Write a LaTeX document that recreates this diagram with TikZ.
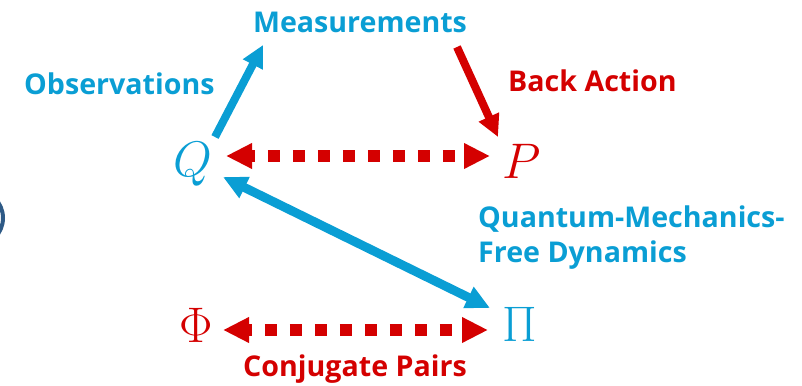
\RequirePackage{fix-cm}
\documentclass[tikz,border=0pt]{standalone}
\usepackage{fontspec}
\newfontfamily\osans{Open Sans}
\usetikzlibrary{arrows.meta}
\definecolor{qblue}{RGB}{10,158,212}
\definecolor{qred}{RGB}{212,0,0}
\definecolor{qdark}{RGB}{46,90,134}
\tikzset{
  lbl/.style={inner sep=0pt, font=\osans\bfseries\fontsize{28.6}{34}\selectfont},
  sym/.style={inner sep=0pt, font=\fontsize{50}{60}\selectfont},
  bluearrow/.style={draw=qblue, line width=8pt, -{Triangle[length=22pt,width=21pt]}},
  redarrow/.style={draw=qred, line width=8pt, -{Triangle[length=22pt,width=21pt]}},
  dashpair/.style={draw=qred, line width=12pt, dash pattern=on 12.5pt off 12.5pt, dash phase=7.5pt,
    {Triangle[length=26pt,width=24pt]}-{Triangle[length=26pt,width=24pt]}},
  bluepair/.style={draw=qblue, line width=9pt,
    {Triangle[length=24pt,width=22pt]}-{Triangle[length=24pt,width=22pt]}}
}
\begin{document}
\begin{tikzpicture}[x=1pt,y=-1pt]
\useasboundingbox (0,0) rectangle (802,385);
\clip (0,0) rectangle (802,385);
% partial circle at left edge
\draw[qdark, line width=4pt] (-25,218) circle (28pt);
% labels
\node[lbl, text=qblue, anchor=base] (meas) at (360,33) {Measurements};
\node[lbl, text=qblue, anchor=base west] (obs) at (24,95) {Observations};
\node[lbl, text=qred, anchor=base west] (back) at (508,92) {Back Action};
\node[lbl, text=qblue, anchor=base west] (qm1) at (478,227) {Quantum-Mechanics-};
\node[lbl, text=qblue, anchor=base west] (qm2) at (478,262) {Free Dynamics};
\node[lbl, text=qred, anchor=base west] (conj) at (243,376) {Conjugate Pairs};
% symbols
\node[sym, text=qblue, anchor=base] (Q) at (193,176) {$Q$};
\node[sym, text=qred, anchor=base] (P) at (522,178) {$P$};
\node[sym, text=qred, anchor=base] (Phi) at (196,342) {$\Phi$};
\node[sym, text=qblue, anchor=base] (Pi) at (520,341) {$\Pi$};
% arrow end points
\coordinate (obsS) at (215,137);
\coordinate (obsT) at (263,45);
\coordinate (backS) at (457,47);
\coordinate (backT) at (498,137);
\coordinate (qpL) at (226,156);
\coordinate (qpR) at (490,156);
\coordinate (qpiL) at (223,177);
\coordinate (qpiR) at (490,308);
\coordinate (ppL) at (223,330);
\coordinate (ppR) at (488,330);
% connectors
\draw[bluearrow] (obsS) -- (obsT);
\draw[redarrow] (backS) -- (backT);
\draw[dashpair] (qpL) -- (qpR);
\draw[bluepair] (qpiL) -- (qpiR);
\draw[dashpair] (ppL) -- (ppR);
\end{tikzpicture}
\end{document}
